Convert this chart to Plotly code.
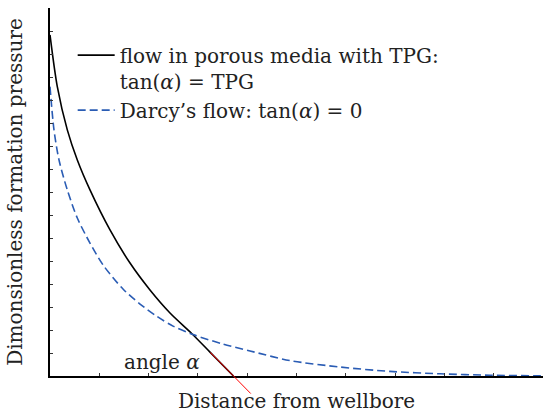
import plotly.graph_objects as go

# ---- data (axis units) ----
tpg_x = [0.0, 0.148, 0.351, 0.554, 0.811, 1.217, 1.623, 2.028, 2.434, 2.874, 3.245, 3.722]
tpg_y = [14.83, 12.58, 10.70, 9.39, 8.09, 6.35, 4.91, 3.74, 2.74, 1.85, 1.04, 0.0]

darcy_x = [0.0, 0.081, 0.183, 0.351, 0.554, 0.811, 1.075, 1.481, 1.826, 2.170, 2.495,
           2.901, 3.509, 4.057, 4.868, 5.882, 6.897, 7.911, 8.925, 9.94, 10.0]
darcy_y = [12.58, 10.70, 9.39, 8.09, 6.87, 5.78, 4.83, 3.78, 3.13, 2.59, 2.17,
           1.80, 1.39, 1.09, 0.67, 0.39, 0.20, 0.096, 0.035, 0.005, 0.0]

x_range = [0, 10]
y_range = [0, 16]

FONT = "DejaVu Serif"
FS = 20
TXT = "#222222"

fig = go.Figure()
fig.add_trace(go.Scatter(
    x=tpg_x, y=tpg_y, mode="lines",
    line=dict(color="black", width=1.6, shape="spline", smoothing=0.8),
    name="flow in porous media with TPG:<br>tan(<i>α</i>) = TPG"))
fig.add_trace(go.Scatter(
    x=darcy_x, y=darcy_y, mode="lines",
    line=dict(color="#2a5cb4", width=1.6, dash="8px,4px", shape="spline", smoothing=0.8),
    name="Darcy’s flow: tan(<i>α</i>) = 0"))

# tangent at the x-intercept of the TPG curve (red line), derived from the data
x0 = tpg_x[-1]
slope = (tpg_y[-1] - tpg_y[-2]) / (tpg_x[-1] - tpg_x[-2])
xa, xb = x0 - 0.47, x0 + 0.35
ya, yb = slope * (xa - x0), slope * (xb - x0)
px = lambda v: (v - x_range[0]) / (x_range[1] - x_range[0])
py = lambda v: (v - y_range[0]) / (y_range[1] - y_range[0])
fig.add_shape(type="line", xref="paper", yref="paper", x0=px(xa), x1=px(xb),
              y0=py(ya), y1=py(yb), line=dict(color="red", width=1), layer="above")

fig.add_annotation(x=2.28, y=0.6, xref="x", yref="y", text="angle <i>α</i>",
                   showarrow=False, font=dict(family=FONT, size=FS, color=TXT))

axis_common = dict(showline=True, linecolor="black", linewidth=1.5, ticks="inside",
                   ticklen=3, tickwidth=1, tickcolor="#333", showticklabels=False,
                   showgrid=False, zeroline=False, dtick=1, tick0=0)
fig.update_xaxes(range=x_range, title=dict(text="Distance from wellbore", standoff=17,
                 font=dict(family=FONT, size=FS, color=TXT)), **axis_common)
fig.update_yaxes(range=y_range, title=dict(text="Dimonsionless formation pressure", standoff=20,
                 font=dict(family=FONT, size=FS, color=TXT)), **axis_common)

fig.update_layout(
    width=543, height=418, margin=dict(l=50, r=0, t=8, b=42),
    paper_bgcolor="white", plot_bgcolor="white",
    font=dict(family=FONT, size=FS, color=TXT),
    legend=dict(x=0.046, y=0.925, xanchor="left", yanchor="top", bgcolor="rgba(0,0,0,0)",
                valign="top", itemwidth=37, font=dict(family=FONT, size=FS, color=TXT)),
)
fig.write_html("out.html")
